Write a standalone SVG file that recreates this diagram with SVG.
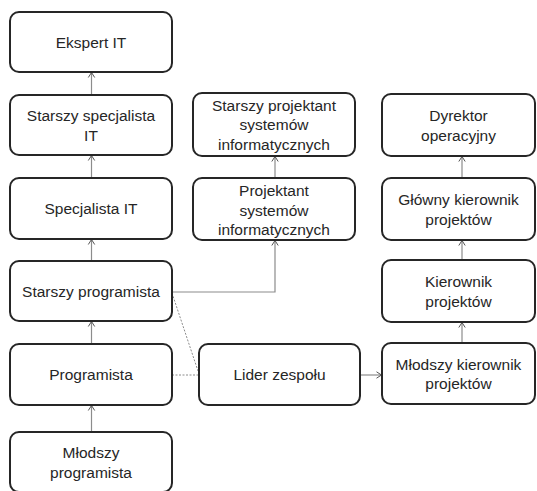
<svg xmlns="http://www.w3.org/2000/svg" width="537" height="491" viewBox="0 0 537 491">
<style>
.box{fill:#fff;stroke:#262626;stroke-width:2}
.t{font-family:"Liberation Sans",Arial,sans-serif;font-size:15.5px;fill:#262626;text-anchor:middle}
.c{fill:none;stroke:#8c8c8c;stroke-width:1.2}
.d{fill:none;stroke:#8c8c8c;stroke-width:1;stroke-dasharray:2,1.5}
</style>
<defs>
<marker id="ah" markerUnits="userSpaceOnUse" markerWidth="10" markerHeight="10" viewBox="-6 -5 7 10" refX="0" refY="0" orient="auto">
<path d="M-5,-3.2 L0,0 L-5,3.2" fill="none" stroke="#555" stroke-width="1"/>
</marker>
</defs>
<rect width="537" height="491" fill="#fff"/>
<g id="connectors">
<path class="c" d="M91.5,95 V72.5" marker-end="url(#ah)"/>
<path class="c" d="M91.5,178 V155.5" marker-end="url(#ah)"/>
<path class="c" d="M91.5,261 V239.5" marker-end="url(#ah)"/>
<path class="c" d="M91.5,344 V321.5" marker-end="url(#ah)"/>
<path class="c" d="M91.5,432 V405.5" marker-end="url(#ah)"/>
<path class="c" d="M275,178 V156.5" marker-end="url(#ah)"/>
<path class="c" d="M172,292 H275 V240.5" marker-end="url(#ah)"/>
<path class="c" d="M462,178 V156.5" marker-end="url(#ah)"/>
<path class="c" d="M462,260 V240.5" marker-end="url(#ah)"/>
<path class="c" d="M462,343 V322.5" marker-end="url(#ah)"/>
<path class="c" d="M360,375 H381.5" marker-end="url(#ah)"/>
<path class="d" d="M172,293 L198,371"/>
<path class="d" d="M172,375 H199"/>
</g>
<g id="ekspert"><rect class="box" x="10" y="12" width="162" height="60" rx="9"/><text class="t" x="91" y="47.5">Ekspert IT</text></g>
<g id="starszy_specjalista"><rect class="box" x="10" y="95" width="162" height="60" rx="9"/><text class="t" x="91" y="121">Starszy specjalista</text><text class="t" x="91" y="140.5">IT</text></g>
<g id="specjalista"><rect class="box" x="10" y="178" width="162" height="61" rx="9"/><text class="t" x="91" y="214">Specjalista IT</text></g>
<g id="starszy_programista"><rect class="box" x="10" y="261" width="162" height="60" rx="9"/><text class="t" x="91" y="297">Starszy programista</text></g>
<g id="programista"><rect class="box" x="10" y="344" width="162" height="61" rx="9"/><text class="t" x="91" y="380">Programista</text></g>
<g id="mlodszy_programista"><rect class="box" x="10" y="432" width="162" height="60" rx="9"/><text class="t" x="91" y="458">Młodszy</text><text class="t" x="91" y="477.5">programista</text></g>
<g id="starszy_projektant"><rect class="box" x="193" y="93" width="162" height="63" rx="9"/><text class="t" x="274" y="110.5">Starszy projektant</text><text class="t" x="274" y="130">systemów</text><text class="t" x="274" y="149.5">informatycznych</text></g>
<g id="projektant"><rect class="box" x="193" y="178" width="162" height="62" rx="9"/><text class="t" x="274" y="196">Projektant</text><text class="t" x="274" y="215.5">systemów</text><text class="t" x="274" y="235">informatycznych</text></g>
<g id="lider"><rect class="box" x="199" y="344" width="161" height="61" rx="9"/><text class="t" x="279.5" y="380">Lider zespołu</text></g>
<g id="dyrektor"><rect class="box" x="382" y="94" width="153" height="62" rx="9"/><text class="t" x="458.5" y="121">Dyrektor</text><text class="t" x="458.5" y="140.5">operacyjny</text></g>
<g id="glowny_kierownik"><rect class="box" x="382" y="178" width="153" height="62" rx="9"/><text class="t" x="458.5" y="205">Główny kierownik</text><text class="t" x="458.5" y="224.5">projektów</text></g>
<g id="kierownik"><rect class="box" x="382" y="260" width="153" height="62" rx="9"/><text class="t" x="458.5" y="287">Kierownik</text><text class="t" x="458.5" y="306.5">projektów</text></g>
<g id="mlodszy_kierownik"><rect class="box" x="382" y="343" width="153" height="61" rx="9"/><text class="t" x="458.5" y="369.5">Młodszy kierownik</text><text class="t" x="458.5" y="389">projektów</text></g>
</svg>
